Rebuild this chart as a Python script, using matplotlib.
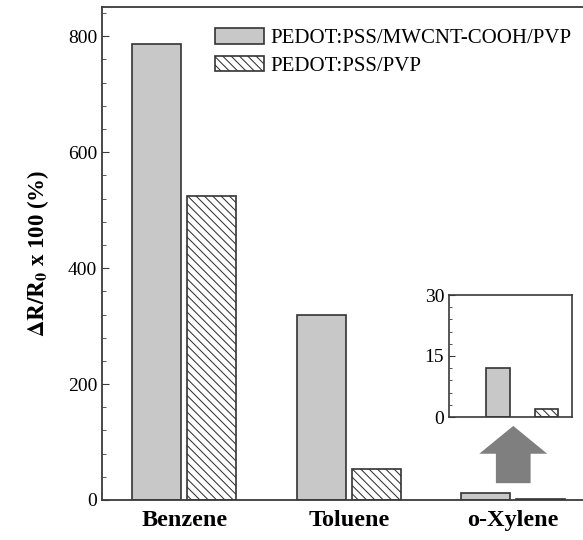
import matplotlib
matplotlib.use("Agg")
import matplotlib.pyplot as plt
from matplotlib.patches import FancyArrow
from matplotlib.ticker import MultipleLocator
import numpy as np

# sensor response of the two films to each vapour
solvents = ["Benzene", "Toluene", "o-Xylene"]
cnt_film = [786, 319, 12.1]      # PEDOT:PSS/MWCNT-COOH/PVP
plain_film = [525, 53, 2.0]      # PEDOT:PSS/PVP
labels = ["PEDOT:PSS/MWCNT-COOH/PVP", "PEDOT:PSS/PVP"]

plt.rcParams["font.family"] = ["Liberation Serif", "DejaVu Serif"]
plt.rcParams["hatch.linewidth"] = 0.75
plt.rcParams["mathtext.fontset"] = "stix"

edge = "#333333"
fill = "#c8c8c8"
spine = "#3a3a3a"
hatch = "\\\\\\\\"

fig = plt.figure(figsize=(5.83, 5.40), dpi=100)
ax = fig.add_axes([102 / 583, 40 / 540, 493.5 / 583, 492.7 / 540])

x = np.arange(len(solvents))
w = 0.3
off = 0.167
ax.bar(x - off, cnt_film, w, color=fill, edgecolor=edge, linewidth=1.2, label=labels[0])
ax.bar(x + off, plain_film, w, color="white", edgecolor=edge, linewidth=1.2,
       hatch=hatch, label=labels[1])

ax.set_xlim(-0.5, 2.5)
ax.set_ylim(0, 850)
ax.yaxis.set_major_locator(MultipleLocator(200))
ax.yaxis.set_minor_locator(MultipleLocator(40))
ax.tick_params(axis="y", which="both", direction="in", color=spine, labelsize=14)
ax.tick_params(axis="y", which="major", length=5)
ax.tick_params(axis="y", which="minor", length=3)
ax.set_xticks(x)
ax.set_xticklabels(solvents, fontsize=17.5, fontweight="bold")
ax.tick_params(axis="x", length=0, pad=7)
for s in ax.spines.values():
    s.set_color(spine)
    s.set_linewidth(1.3)

ax.set_ylabel(r"$\mathbf{\Delta R/R_0}$ x 100 (%)", fontsize=16.5, fontweight="bold", labelpad=12)

ax.legend(loc="upper left", bbox_to_anchor=(215 / 583, 1 - 28 / 540),
          bbox_transform=fig.transFigure, frameon=False, fontsize=15,
          borderpad=0, borderaxespad=0, handlelength=2.35, handleheight=0.8,
          handletextpad=0.3, labelspacing=0.35)

# arrow pointing up at the zoomed-in o-Xylene bars
ax.add_patch(FancyArrow(2.0, 29, 0, 98.8, width=0.211, head_width=0.413,
                        head_length=48, length_includes_head=True,
                        color="#7f7f7f", linewidth=0))

# inset with the small o-Xylene values
ins = fig.add_axes([449 / 583, 1 - 417 / 540, 122.7 / 583, 122 / 540])
ins.bar([0], [cnt_film[2]], 0.487, color=fill, edgecolor=edge, linewidth=1.2)
ins.bar([1], [plain_film[2]], 0.487, color="white", edgecolor=edge, linewidth=1.2,
        hatch=hatch)
ins.set_xlim(-1.0, 1.52)
ins.set_ylim(0, 30)
ins.set_xticks([])
ins.yaxis.set_major_locator(MultipleLocator(15))
ins.yaxis.set_minor_locator(MultipleLocator(3))
ins.tick_params(axis="y", which="both", direction="in", color=spine, labelsize=14)
ins.tick_params(axis="y", which="major", length=4)
ins.tick_params(axis="y", which="minor", length=2.5)
for s in ins.spines.values():
    s.set_color(spine)
    s.set_linewidth(1.2)

fig.savefig("out.png", dpi=100)
